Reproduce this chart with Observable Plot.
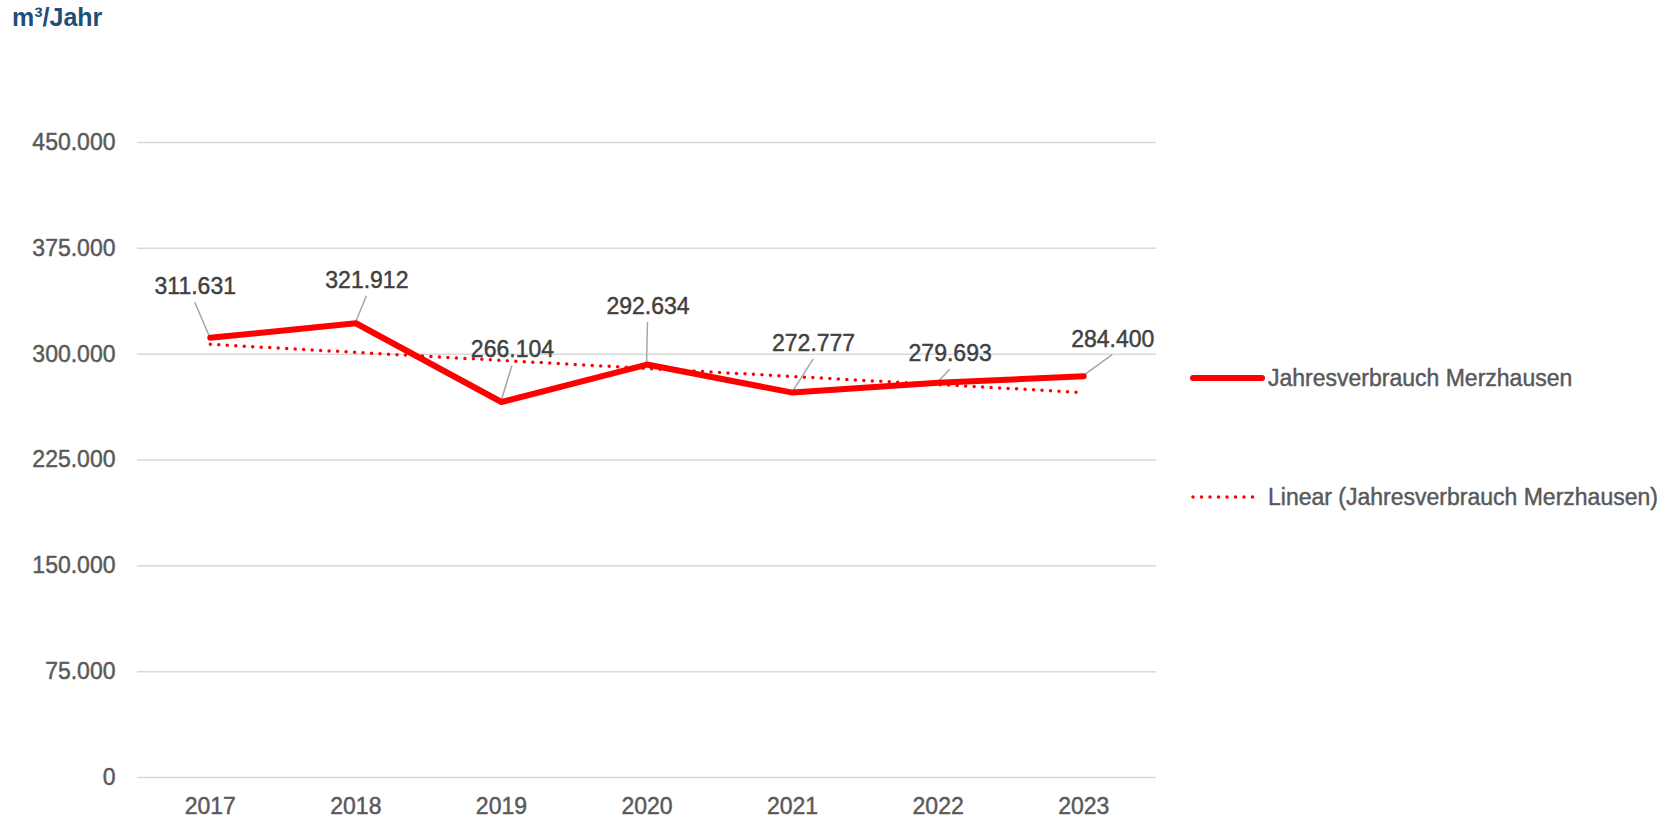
<!DOCTYPE html>
<html><head><meta charset="utf-8">
<script src="https://cdn.jsdelivr.net/npm/d3@7"></script>
<script src="https://cdn.jsdelivr.net/npm/@observablehq/plot@0.6"></script>
<style>
body{margin:0;background:#fff;}
#wrap{position:relative;width:1668px;height:819px;overflow:hidden;background:#fff;font-family:"Liberation Sans",Arial,sans-serif;}
#chart{position:absolute;left:0;top:0;}
#title{position:absolute;left:12px;top:3px;font-weight:bold;font-size:25px;color:#1f4e79;z-index:2;}
#legend{position:absolute;left:0;top:0;z-index:1;}
#chart svg g[aria-label$="axis"] text, #chart svg g[aria-label*="tick label"] text{stroke:#595959;stroke-width:0.45px;}
</style></head><body>
<div id="wrap">
  <div id="chart"></div>
  <div id="title">m³/Jahr</div>
  <svg id="legend" width="1668" height="819"></svg>
</div>
<script>
// ---- data ----
const years = [2017, 2018, 2019, 2020, 2021, 2022, 2023];
const values = [311631, 321912, 266104, 292634, 272777, 279693, 284400];
const yTicks = [0, 75000, 150000, 225000, 300000, 375000, 450000];
const seriesName = "Jahresverbrauch Merzhausen";
const trendName = "Linear (Jahresverbrauch Merzhausen)";
// label placement offsets (pixels)
const labelDx = [-15, 11, 11, 1, 21, 12, 29];
const labelDy = [-51, -43, -52, -58, -49, -29, -37];

const data = years.map((year, i) => ({year, value: values[i]}));
const de = d3.formatLocale({decimal: ",", thousands: ".", grouping: [3], currency: ["", "€"]});
const fmt = de.format(",d");

const FONT = '"Liberation Sans", Arial, sans-serif';
const RED = "#ff0000";

const leaders = (index, scales) => {
  const g = d3.create("svg:g");
  data.forEach((d, i) => {
    const px = scales.x(d.year), py = scales.y(d.value);
    g.append("line")
      .attr("x1", px + labelDx[i]).attr("y1", py + labelDy[i] + 16)
      .attr("x2", px).attr("y2", py)
      .attr("stroke", "#a6a6a6").attr("stroke-width", 1.5);
  });
  return g.node();
};

const labelMarks = data.map((d, i) => Plot.text([d], {
  x: "year", y: "value", text: e => fmt(e.value),
  dx: labelDx[i], dy: labelDy[i], fill: "#404040", stroke: "#404040", strokeWidth: 0.45,
  fontSize: 23, fontFamily: FONT
}));

const plot = Plot.plot({
  width: 1668, height: 819,
  marginTop: 142, marginBottom: 42, marginLeft: 137, marginRight: 512,
  style: {fontFamily: FONT, fontSize: "23px", color: "#595959", background: "white"},
  x: {type: "linear", domain: [2016.5, 2023.5], ticks: years, tickFormat: d => String(d), tickSize: 0, tickPadding: 20, label: null},
  y: {domain: [0, 450000], ticks: yTicks, tickFormat: fmt, tickSize: 0, tickPadding: 22, label: null},
  marks: [
    Plot.ruleY(yTicks, {stroke: "#d9d9d9", strokeWidth: 1.5}),
    leaders,
    Plot.line(data, {x: "year", y: "value", stroke: RED, strokeWidth: 6, strokeLinecap: "round", strokeLinejoin: "round"}),
    Plot.linearRegressionY(data, {x: "year", y: "value", stroke: RED, strokeWidth: 3.5, strokeDasharray: "0 8.5", strokeLinecap: "round", ci: 0}),
    ...labelMarks
  ]
});
document.getElementById("chart").appendChild(plot);

// ---- legend ----
const lg = d3.select("#legend").style("font-family", FONT);
lg.append("line").attr("x1", 1193).attr("x2", 1262).attr("y1", 378).attr("y2", 378)
  .attr("stroke", RED).attr("stroke-width", 6).attr("stroke-linecap", "round");
lg.append("text").attr("x", 1268).attr("y", 378).attr("dy", "0.35em")
  .attr("font-size", 23).attr("fill", "#595959").attr("stroke", "#595959").attr("stroke-width", 0.45).text(seriesName);
lg.append("line").attr("x1", 1193).attr("x2", 1256).attr("y1", 497).attr("y2", 497)
  .attr("stroke", RED).attr("stroke-width", 3.5).attr("stroke-dasharray", "0 8.5").attr("stroke-linecap", "round");
lg.append("text").attr("x", 1268).attr("y", 497).attr("dy", "0.35em")
  .attr("font-size", 23).attr("fill", "#595959").attr("stroke", "#595959").attr("stroke-width", 0.45).text(trendName);
</script>
</body></html>
